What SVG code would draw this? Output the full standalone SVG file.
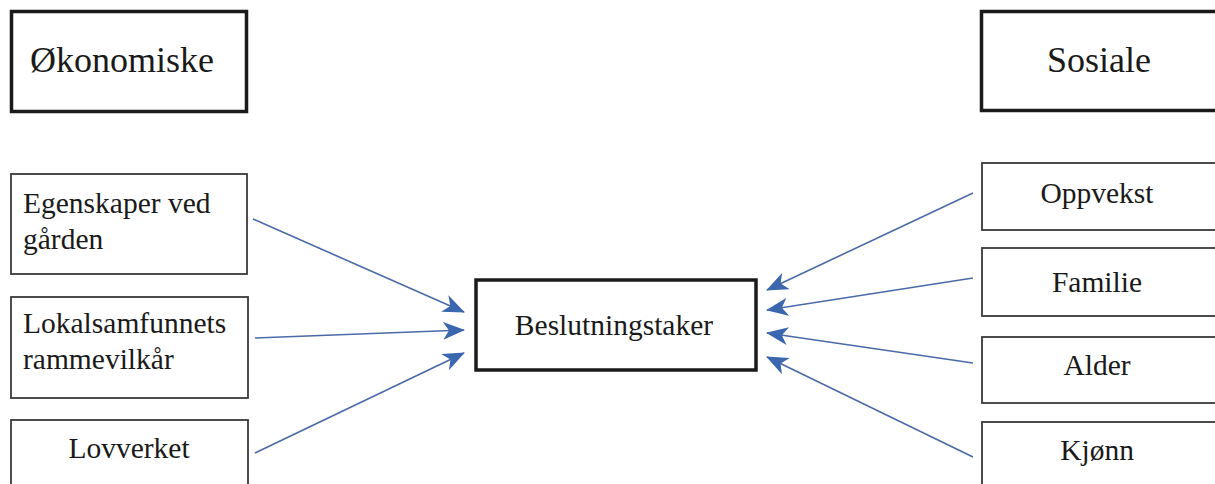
<svg xmlns="http://www.w3.org/2000/svg" width="1215" height="484" viewBox="0 0 1215 484">
<style>
.bg{fill:#ffffff}
.thick{fill:#ffffff;stroke:#1a1a1a;stroke-width:3.5}
.thin{fill:#ffffff;stroke:#3a3a3a;stroke-width:1.8}
text{font-family:'Liberation Serif','Tinos','DejaVu Serif',serif;fill:#1a1a1a}
.big{font-size:36px}
.mid{font-size:29.5px}
.conn line{stroke:#4a6aa8;stroke-width:1.6;fill:none;marker-end:url(#ah)}
</style>
<defs>
<marker id="ah" viewBox="0 0 22 18" refX="21" refY="9" markerWidth="22" markerHeight="18" markerUnits="userSpaceOnUse" orient="auto">
<path d="M0,0 L22,9 L0,18 L6,9 z" fill="#3b67ae"/>
</marker>
</defs>
<rect class="bg" x="0" y="0" width="1215" height="484"/>
<g id="okonomiske">
<rect class="thick" x="11.5" y="11.5" width="235" height="100"/>
<text class="big" x="30" y="72" font-family="Liberation Serif, serif">Økonomiske</text>
</g>
<g id="sosiale">
<rect class="thick" x="981.5" y="11.5" width="260" height="99"/>
<text class="big" x="1099" y="72" text-anchor="middle">Sosiale</text>
</g>
<g id="egenskaper">
<rect class="thin" x="11" y="174" width="236" height="100"/>
<text class="mid" x="23" y="213">Egenskaper ved</text>
<text class="mid" x="23" y="249">gården</text>
</g>
<g id="lokalsamfunnets">
<rect class="thin" x="11" y="297" width="237" height="101"/>
<text class="mid" x="23" y="333">Lokalsamfunnets</text>
<text class="mid" x="23" y="369">rammevilkår</text>
</g>
<g id="lovverket">
<rect class="thin" x="11" y="420" width="237" height="80"/>
<text class="mid" x="129" y="458" text-anchor="middle">Lovverket</text>
</g>
<g id="beslutningstaker">
<rect class="thick" x="476" y="280" width="280" height="90"/>
<text class="mid" x="614" y="335" text-anchor="middle">Beslutningstaker</text>
</g>
<g id="oppvekst">
<rect class="thin" x="982" y="163" width="250" height="67"/>
<text class="mid" x="1097" y="203" text-anchor="middle">Oppvekst</text>
</g>
<g id="familie">
<rect class="thin" x="982" y="248" width="250" height="68"/>
<text class="mid" x="1097" y="292" text-anchor="middle">Familie</text>
</g>
<g id="alder">
<rect class="thin" x="982" y="337" width="250" height="66"/>
<text class="mid" x="1097" y="375" text-anchor="middle">Alder</text>
</g>
<g id="kjonn">
<rect class="thin" x="982" y="422" width="250" height="80"/>
<text class="mid" x="1097" y="460" text-anchor="middle">Kjønn</text>
</g>
<g id="connectors" class="conn">
<line x1="253" y1="219" x2="464" y2="312"/>
<line x1="255" y1="338" x2="464" y2="330"/>
<line x1="255" y1="453" x2="464" y2="353"/>
<line x1="973" y1="193" x2="767" y2="290"/>
<line x1="973" y1="278" x2="767" y2="310"/>
<line x1="973" y1="363" x2="767" y2="333"/>
<line x1="973" y1="457" x2="767" y2="357"/>
</g>
</svg>
